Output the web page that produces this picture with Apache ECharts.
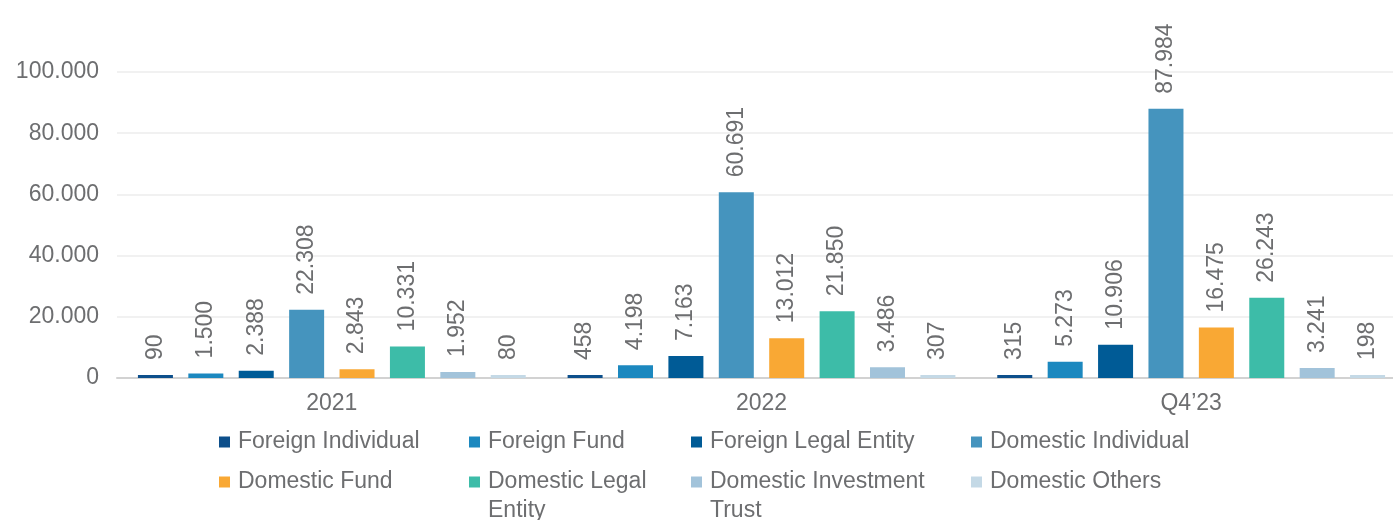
<!DOCTYPE html>
<html>
<head>
<meta charset="utf-8">
<script src="https://cdn.jsdelivr.net/npm/echarts@6/dist/echarts.min.js"></script>
<style>
  html, body { margin: 0; padding: 0; background: #ffffff; }
  #chart { width: 1393px; height: 520px; }
</style>
</head>
<body>
<div id="chart"></div>
<script>
// Periods on the category axis
const categories = ['2021', '2022', 'Q4\u201923'];

// Investor counts per group, one value per period
const foreignIndividual = [90, 458, 315];
const foreignFund = [1500, 4198, 5273];
const foreignLegalEntity = [2388, 7163, 10906];
const domesticIndividual = [22308, 60691, 87984];
const domesticFund = [2843, 13012, 16475];
const domesticLegalEntity = [10331, 21850, 26243];
const domesticInvestmentTrust = [1952, 3486, 3241];
const domesticOthers = [80, 307, 198];

// Value axis ticks
const yTicks = [0, 20000, 40000, 60000, 80000, 100000];

const seriesDefs = [
  { name: 'Foreign Individual', data: foreignIndividual, color: '#0d4f8b' },
  { name: 'Foreign Fund', data: foreignFund, color: '#1c88bf' },
  { name: 'Foreign Legal Entity', data: foreignLegalEntity, color: '#005b96' },
  { name: 'Domestic Individual', data: domesticIndividual, color: '#4594be' },
  { name: 'Domestic Fund', data: domesticFund, color: '#f9a834' },
  { name: 'Domestic Legal Entity', data: domesticLegalEntity, color: '#3dbca8' },
  { name: 'Domestic Investment Trust', data: domesticInvestmentTrust, color: '#a2c3da' },
  { name: 'Domestic Others', data: domesticOthers, color: '#c4d9e6' }
];

// Legend grid: two rows of four columns, long names wrap onto a second line
const legendCols = [219, 469, 691, 971];
const legendRows = [442, 482];
const legendLabels = {
  'Domestic Legal Entity': ['Domestic Legal', 'Entity'],
  'Domestic Investment Trust': ['Domestic Investment', 'Trust']
};

const FONT = '"Liberation Sans", Arial, Helvetica, sans-serif';
const TEXT = '#6d6e70';
const LINE_H = 29;

function fmt(v) {
  return String(v).replace(/\B(?=(\d{3})+(?!\d))/g, '.');
}

const legends = seriesDefs.map((s, i) => {
  const col = i % 4, row = Math.floor(i / 4);
  const wrapped = legendLabels[s.name];
  const cy = legendRows[row];
  // A blank leading line keeps the first text line level with the icon
  const text = wrapped ? ' \n' + wrapped.join('\n') : s.name;
  return {
    data: [s.name],
    left: legendCols[col],
    top: wrapped ? cy - LINE_H * 1.5 : cy - LINE_H / 2,
    padding: 0,
    itemWidth: 11,
    itemHeight: 11,
    icon: 'rect',
    selectedMode: false,
    formatter: () => text,
    textStyle: {
      fontFamily: FONT,
      fontSize: 23,
      color: TEXT,
      lineHeight: LINE_H,
      padding: [0, 0, 0, 3]
    }
  };
});

const chart = echarts.init(document.getElementById('chart'), null, { renderer: 'canvas' });

chart.setOption({
  backgroundColor: '#ffffff',
  animation: false,
  grid: {
    left: 117, top: 72, width: 1289, bottom: 142,
    containLabel: false, outerBoundsMode: 'none'
  },
  legend: legends,
  xAxis: {
    type: 'category',
    data: categories,
    axisLine: { lineStyle: { color: '#d2d2d2', width: 2 } },
    axisTick: { show: false },
    axisLabel: { fontFamily: FONT, fontSize: 23, color: TEXT, margin: 14 }
  },
  yAxis: {
    type: 'value',
    min: yTicks[0],
    max: yTicks[yTicks.length - 1],
    interval: yTicks[1] - yTicks[0],
    axisLine: { show: false },
    axisTick: { show: false },
    splitLine: { lineStyle: { color: '#ececec', width: 1.5 } },
    axisLabel: {
      fontFamily: FONT, fontSize: 23, color: TEXT, margin: 18,
      formatter: v => fmt(v)
    }
  },
  series: seriesDefs.map(s => ({
    name: s.name,
    type: 'bar',
    data: s.data,
    barWidth: 35,
    barGap: '44%',
    barMinHeight: 3,
    itemStyle: { color: s.color },
    label: {
      show: true,
      position: 'top',
      rotate: 90,
      align: 'left',
      verticalAlign: 'middle',
      distance: 15,
      fontFamily: FONT,
      fontSize: 23,
      color: TEXT,
      formatter: p => fmt(p.value)
    }
  }))
});
</script>
</body>
</html>
